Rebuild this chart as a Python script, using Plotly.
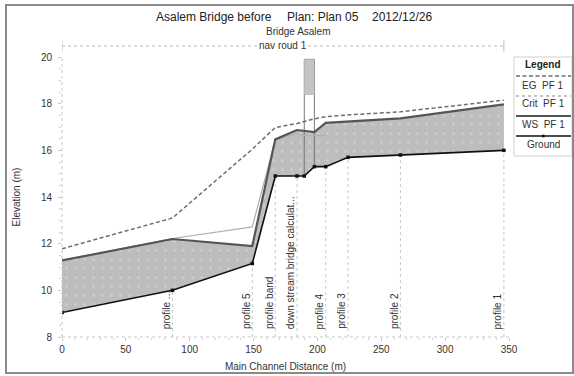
import plotly.graph_objects as go

# ---- data -----------------------------------------------------------------
stations = [0, 86.5, 149, 167, 184, 189.7, 197.6, 206.5, 224, 265, 346]
ground = [9.05, 10.0, 11.15, 14.9, 14.9, 14.9, 15.3, 15.3, 15.7, 15.8, 16.0]
ws_pf1 = [11.28, 12.2, 11.9, 16.47, 16.87, 16.84, 16.78, 17.18, 17.24, 17.37, 17.97]
eg_pf1 = [11.78, 13.1, 16.05, 16.98, 17.15, 17.23, 17.35, 17.44, 17.52, 17.65, 18.15]
crit_pf1 = [11.28, 12.22, 12.72, 16.45, 16.72, 16.65, 16.65, 16.62, None, None, None]

section_labels = ["profile ...", "profile 5", "profile band",
                  "down stream bridge calculat...", "profile 4", "profile 3",
                  "profile 2", "profile 1"]
section_stations = [86.5, 149, 167, 184, 206.5, 224, 265, 346]

bridge_stations = [189.7, 197.6]
bridge_high_chord = 19.9
bridge_low_chord = 18.37

band_name = "nav roud 1"
band_range = [0, 346]

x_ticks = [0, 50, 100, 150, 200, 250, 300, 350]
y_ticks = [8, 10, 12, 14, 16, 18, 20]

# ---- geometry helpers (pixel -> paper) -------------------------------------
W, H = 574, 376
L, R, T, B = 62, 65, 57, 39
PW, PH = W - L - R, H - T - B


def px(x):
    return (x - L) / PW


def py(y):
    return (H - B - y) / PH


FONT = "Liberation Sans, Arial, sans-serif"
TXT = "#333333"
EG_DASH = "4px,2.5px"

fig = go.Figure()

# Flow area between ground and water surface
poly_x = stations + stations[::-1]
poly_y = ws_pf1 + ground[::-1]
fig.add_trace(go.Scatter(
    x=poly_x, y=poly_y, mode="lines", fill="toself",
    fillcolor="#bdbdbd",
    fillpattern=dict(shape=".", bgcolor="#bdbdbd", fgcolor="#e4e4e4",
                     size=9, solidity=0.06),
    line=dict(width=0), hoverinfo="skip", showlegend=False))

# Bridge deck (between low and high chord)
fig.add_shape(type="rect", xref="x", yref="y",
              x0=bridge_stations[0], x1=bridge_stations[1],
              y0=bridge_low_chord, y1=bridge_high_chord,
              fillcolor="#c4c4c4", line=dict(width=0), layer="above")

# Bridge outline: piers/abutments down to the ground, top line
g_left = ground[stations.index(bridge_stations[0])]
g_right = ground[stations.index(bridge_stations[1])]
fig.add_trace(go.Scatter(
    x=[bridge_stations[0], bridge_stations[0], bridge_stations[1], bridge_stations[1]],
    y=[g_left, bridge_high_chord, bridge_high_chord, g_right],
    mode="lines", line=dict(color="#777777", width=1),
    hoverinfo="skip", showlegend=False))

# Energy grade
fig.add_trace(go.Scatter(x=stations, y=eg_pf1, mode="lines",
                         line=dict(color="#6e6e6e", width=1.5, dash=EG_DASH),
                         showlegend=False))
# Critical depth
fig.add_trace(go.Scatter(x=stations, y=crit_pf1, mode="lines",
                         line=dict(color="#b0b0b0", width=1.2),
                         connectgaps=False, showlegend=False))
# Water surface
fig.add_trace(go.Scatter(x=stations, y=ws_pf1, mode="lines",
                         line=dict(color="#555555", width=2.2),
                         showlegend=False))
# Ground
fig.add_trace(go.Scatter(x=stations, y=ground, mode="lines+markers",
                         line=dict(color="#111111", width=1.6),
                         marker=dict(color="#111111", size=3.5, symbol="square"),
                         showlegend=False))

# Cross-section station markers and rotated labels
for name, st in zip(section_labels, section_stations):
    gy = ground[stations.index(st)]
    fig.add_shape(type="line", xref="x", yref="y", x0=st, x1=st, y0=8, y1=gy,
                  line=dict(color="#c8c8c8", width=1, dash="dot"), layer="below")
    fig.add_annotation(x=st, y=8.25, xref="x", yref="y", text=name,
                       textangle=-90, showarrow=False, xanchor="right",
                       yanchor="bottom", xshift=1,
                       font=dict(family=FONT, size=10, color=TXT))

# Axis lines (dotted, light)
fig.add_shape(type="line", xref="paper", yref="paper", x0=0, x1=1, y0=0, y1=0,
              line=dict(color="#c8c8c8", width=1, dash="dot"))
fig.add_shape(type="line", xref="paper", yref="paper", x0=0, x1=0, y0=0, y1=1,
              line=dict(color="#c8c8c8", width=1, dash="dot"))

# Navigation band across the top
band_y = py(46)
fig.add_shape(type="line", xref="x", yref="paper", x0=band_range[0], x1=band_range[1],
              y0=band_y, y1=band_y, line=dict(color="#bbbbbb", width=1, dash="dot"))
for bx in band_range:
    fig.add_shape(type="line", xref="x", yref="paper", x0=bx, x1=bx,
                  y0=band_y - 0.02, y1=band_y + 0.02,
                  line=dict(color="#bbbbbb", width=1))
fig.add_annotation(x=sum(band_range) / 2, y=band_y, xref="x", yref="paper",
                   text=band_name, showarrow=False, bgcolor="white",
                   xanchor="center", yanchor="middle", borderpad=0,
                   font=dict(family=FONT, size=10, color=TXT))

# Titles
for txt, xl in [("Asalem Bridge before", 154), ("Plan: Plan 05", 285),
                ("2012/12/26", 370)]:
    fig.add_annotation(x=px(xl), y=py(17), xref="paper", yref="paper", text=txt,
                       showarrow=False, xanchor="left", yanchor="middle",
                       font=dict(family=FONT, size=12, color="#222222"))
fig.add_annotation(x=px(298), y=py(31), xref="paper", yref="paper",
                   text="Bridge Asalem", showarrow=False,
                   xanchor="center", yanchor="middle",
                   font=dict(family=FONT, size=10, color=TXT))

# Legend box
lx0, lx1 = px(514), px(572)
fig.add_shape(type="rect", xref="paper", yref="paper", x0=lx0, x1=lx1,
              y0=py(156), y1=py(57), line=dict(color="#d0d0d0", width=1),
              fillcolor="white")
lcx = px(543)
fig.add_annotation(x=lcx, y=py(64), xref="paper", yref="paper", text="<b>Legend</b>",
                   showarrow=False, xanchor="center", yanchor="middle",
                   font=dict(family=FONT, size=10, color="#222222"))
legend_rows = [
    ("EG  PF 1", 76, 85, dict(color="#6e6e6e", width=1.3, dash=EG_DASH)),
    ("Crit  PF 1", 96, 104, dict(color="#b0b0b0", width=1.3, dash="dot")),
    ("WS  PF 1", 116, 124, dict(color="#555555", width=2.2)),
    ("Ground", 136, 144, dict(color="#111111", width=1.6)),
]
for label, ly, ty, style in legend_rows:
    fig.add_shape(type="line", xref="paper", yref="paper", x0=px(516), x1=px(571),
                  y0=py(ly), y1=py(ly), line=style)
    fig.add_annotation(x=lcx, y=py(ty), xref="paper", yref="paper", text=label,
                       showarrow=False, xanchor="center", yanchor="middle",
                       font=dict(family=FONT, size=10, color=TXT))
fig.add_shape(type="rect", xref="paper", yref="paper", x0=px(542), x1=px(544.5),
              y0=py(137.3), y1=py(134.7), fillcolor="#111111", line=dict(width=0))

# Outer frame
fig.add_shape(type="rect", xref="paper", yref="paper", x0=px(6), x1=px(573),
              y0=py(373), y1=py(5), line=dict(color="#8a8a8a", width=2))

fig.update_layout(
    width=W, height=H,
    margin=dict(l=L, r=R, t=T, b=B, autoexpand=False),
    paper_bgcolor="white", plot_bgcolor="white",
    font=dict(family=FONT, size=10, color=TXT),
    showlegend=False,
    xaxis=dict(range=[0, 350], tickvals=x_ticks, showgrid=False, zeroline=False,
               showline=False, ticks="outside", ticklen=3, tickcolor="#c8c8c8",
               automargin=False,
               minor=dict(dtick=10, ticks="outside", ticklen=2, tickcolor="#d0d0d0"),
               title=dict(text="Main Channel Distance (m)", standoff=8,
                          font=dict(family=FONT, size=10, color=TXT))),
    yaxis=dict(range=[8, 20], tickvals=y_ticks, showgrid=False, zeroline=False,
               showline=False, ticks="outside", ticklen=3, tickcolor="#c8c8c8",
               automargin=False,
               minor=dict(dtick=0.5, ticks="outside", ticklen=2, tickcolor="#d0d0d0"),
               ticklabelstandoff=4,
               title=dict(text="Elevation (m)", standoff=18,
                          font=dict(family=FONT, size=10, color=TXT))),
)

fig.write_html("out.html")
